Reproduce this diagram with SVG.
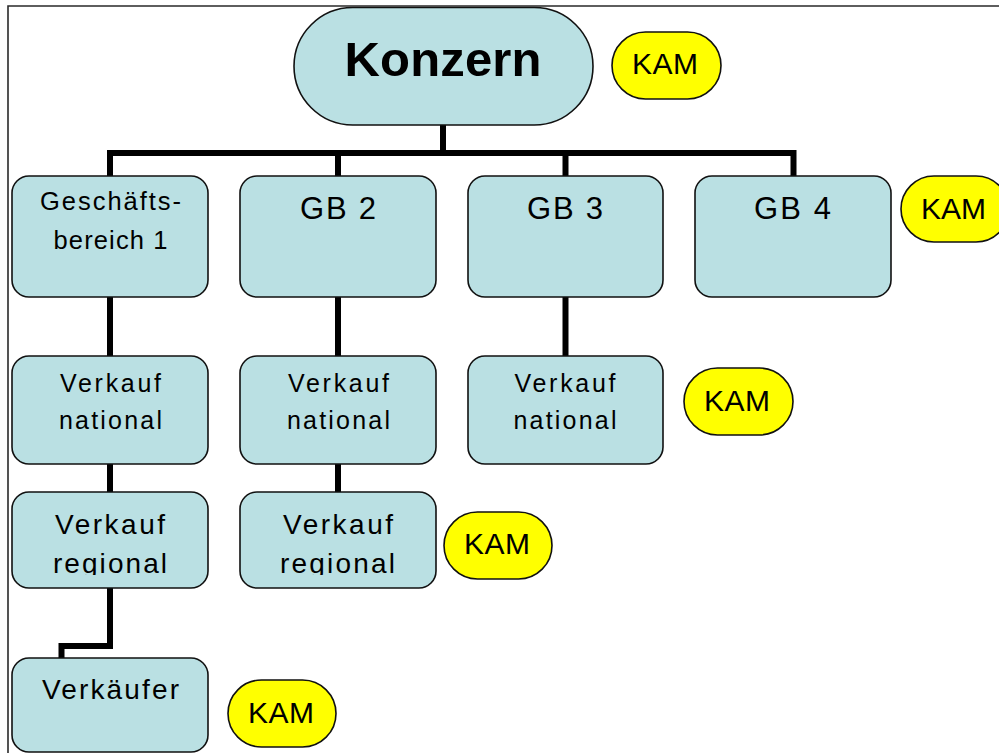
<svg xmlns="http://www.w3.org/2000/svg" width="999" height="753" viewBox="0 0 999 753">
  <style>
    .box { fill: #bae0e3; stroke: #111; stroke-width: 1.6; }
    .kam { fill: #ffff00; stroke: #111; stroke-width: 1.6; }
    .t { font-family: "Liberation Sans", Arial, sans-serif; fill: #000; text-anchor: middle; }
    .link { fill: none; stroke: #000; stroke-width: 6; stroke-linejoin: miter; stroke-linecap: butt; }
    .frame { fill: none; stroke: #2a2a2a; stroke-width: 1.6; }
  </style>
  <defs>
    <!-- lower text line of the regional boxes is cut just below the baseline -->
    <clipPath id="cutRegional">
      <rect x="0" y="0" width="999" height="575"/>
    </clipPath>
  </defs>

  <rect width="999" height="753" fill="#fff"/>

  <!-- page frame (top and left edge) -->
  <path class="frame" d="M8 753 V6 H999"/>

  <!-- connectors -->
  <g id="connectors">
    <path class="link" d="M443 125 V153"/>
    <path class="link" d="M110 176 V153 H793.5 V176"/>
    <path class="link" d="M338 153 V176"/>
    <path class="link" d="M565.5 153 V176"/>
    <path class="link" d="M110 297 V356"/>
    <path class="link" d="M338 297 V356"/>
    <path class="link" d="M565.5 297 V356"/>
    <path class="link" d="M110 464 V492"/>
    <path class="link" d="M338 464 V492"/>
    <path class="link" d="M110 588 V646 H61.5 V658"/>
  </g>

  <!-- top node -->
  <g id="konzern">
    <rect class="box" x="294" y="7.5" width="299" height="117.5" rx="58.75" ry="58.75"/>
    <text class="t" x="443" y="76" font-size="49" font-weight="bold" textLength="197" lengthAdjust="spacing">Konzern</text>
  </g>
  <g id="kam-konzern">
    <rect class="kam" x="612" y="32" width="109" height="67" rx="33.5" ry="33.5"/>
    <text class="t" x="665" y="74" font-size="30" textLength="66" lengthAdjust="spacing">KAM</text>
  </g>

  <!-- business units -->
  <g id="gb1">
    <rect class="box" x="12" y="176" width="196" height="121" rx="17"/>
    <text class="t" x="110.5" y="210" font-size="25.5" textLength="141" lengthAdjust="spacing">Geschäfts-</text>
    <text class="t" x="110.5" y="249" font-size="25.5" textLength="114" lengthAdjust="spacing">bereich 1</text>
  </g>
  <g id="gb2">
    <rect class="box" x="240" y="176" width="196" height="121" rx="17"/>
    <text class="t" x="338" y="219" font-size="31" textLength="76" lengthAdjust="spacing">GB 2</text>
  </g>
  <g id="gb3">
    <rect class="box" x="468" y="176" width="195" height="121" rx="17"/>
    <text class="t" x="565" y="219" font-size="31" textLength="76" lengthAdjust="spacing">GB 3</text>
  </g>
  <g id="gb4">
    <rect class="box" x="695" y="176" width="196" height="121" rx="17"/>
    <text class="t" x="792.5" y="219" font-size="31" textLength="77" lengthAdjust="spacing">GB 4</text>
  </g>
  <g id="kam-gb4">
    <rect class="kam" x="901" y="176" width="108" height="66" rx="33" ry="33"/>
    <text class="t" x="953.5" y="219" font-size="30" textLength="65" lengthAdjust="spacing">KAM</text>
  </g>

  <!-- national sales -->
  <g id="vn1">
    <rect class="box" x="12" y="356" width="196" height="108" rx="17"/>
    <text class="t" x="110.5" y="392" font-size="25" textLength="101" lengthAdjust="spacing">Verkauf</text>
    <text class="t" x="110.5" y="429" font-size="25" textLength="103" lengthAdjust="spacing">national</text>
  </g>
  <g id="vn2">
    <rect class="box" x="240" y="356" width="196" height="108" rx="17"/>
    <text class="t" x="338.5" y="392" font-size="25" textLength="101" lengthAdjust="spacing">Verkauf</text>
    <text class="t" x="338.5" y="429" font-size="25" textLength="103" lengthAdjust="spacing">national</text>
  </g>
  <g id="vn3">
    <rect class="box" x="468" y="356" width="195" height="108" rx="17"/>
    <text class="t" x="565" y="392" font-size="25" textLength="101" lengthAdjust="spacing">Verkauf</text>
    <text class="t" x="565" y="429" font-size="25" textLength="103" lengthAdjust="spacing">national</text>
  </g>
  <g id="kam-vn3">
    <rect class="kam" x="684" y="368" width="109" height="67" rx="33.5" ry="33.5"/>
    <text class="t" x="737" y="411" font-size="30" textLength="66" lengthAdjust="spacing">KAM</text>
  </g>

  <!-- regional sales -->
  <g id="vr1">
    <rect class="box" x="12" y="492" width="196" height="96" rx="17"/>
    <text class="t" x="110" y="534" font-size="28" textLength="110" lengthAdjust="spacing">Verkauf</text>
    <text class="t" x="110" y="573" font-size="28" textLength="114" lengthAdjust="spacing" clip-path="url(#cutRegional)">regional</text>
  </g>
  <g id="vr2">
    <rect class="box" x="240" y="492" width="196" height="96" rx="17"/>
    <text class="t" x="338" y="534" font-size="28" textLength="110" lengthAdjust="spacing">Verkauf</text>
    <text class="t" x="337.5" y="573" font-size="28" textLength="115" lengthAdjust="spacing" clip-path="url(#cutRegional)">regional</text>
  </g>
  <g id="kam-vr2">
    <rect class="kam" x="444" y="512" width="108" height="67" rx="33.5" ry="33.5"/>
    <text class="t" x="497" y="554" font-size="30" textLength="66" lengthAdjust="spacing">KAM</text>
  </g>

  <!-- sales staff -->
  <g id="verkaeufer">
    <rect class="box" x="12" y="658" width="196" height="94" rx="17"/>
    <text class="t" x="110.5" y="699" font-size="28" textLength="137" lengthAdjust="spacing">Verkäufer</text>
  </g>
  <g id="kam-verkaeufer">
    <rect class="kam" x="228" y="680" width="108" height="67" rx="33.5" ry="33.5"/>
    <text class="t" x="281" y="723" font-size="30" textLength="66" lengthAdjust="spacing">KAM</text>
  </g>
</svg>
